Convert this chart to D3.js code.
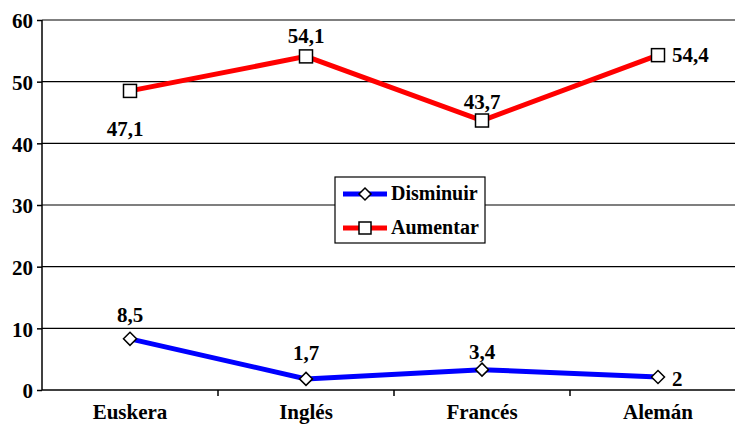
<!DOCTYPE html>
<html><head><meta charset="utf-8">
<script src="https://cdn.jsdelivr.net/npm/d3@7"></script>
<style>body{margin:0;background:#fff}svg{display:block}</style>
</head><body>
<svg id="c" width="735" height="425"></svg>
<script>
const categories = ["Euskera","Inglés","Francés","Alemán"];
const disminuir = [8.3, 1.8, 3.3, 2.1];
const disminuirLabels = ["8,5","1,7","3,4","2"];
const aumentar = [48.5, 54.1, 43.7, 54.3];
const aumentarLabels = ["47,1","54,1","43,7","54,4"];
const yTicks = [0,10,20,30,40,50,60];

const FONT = "'Liberation Serif'";
const svg = d3.select("#c");
const x = d3.scaleBand().domain(categories).range([42, 746]);
const y = d3.scaleLinear().domain([0,60]).range([390, 20]);
const cx = d => x(d) + x.bandwidth()/2;

function styleText(sel, size){
  sel.attr("font-family", FONT).attr("font-weight","bold").attr("font-size", size)
     .attr("fill","#000");
}

// gridlines
svg.append("g").selectAll("line").data(yTicks.filter(t=>t>0)).join("line")
  .attr("x1",42).attr("x2",735).attr("y1",d=>y(d)).attr("y2",d=>y(d))
  .attr("stroke","#000").attr("stroke-width",1.2);

// y axis
const ya = svg.append("g").attr("transform","translate(42,0)")
  .call(d3.axisLeft(y).tickValues(yTicks).tickSize(5).tickPadding(4).tickFormat(d3.format("d")));
ya.attr("font-family", FONT).attr("font-size",21);
ya.select(".domain").attr("stroke","#000").attr("stroke-width",1.5).attr("d","M0,20V390");
ya.selectAll("line").attr("stroke","#000").attr("stroke-width",1.5);
styleText(ya.selectAll("text"), 21);
ya.selectAll("text").attr("dy","0.38em");

// x axis
const xa = svg.append("g").attr("transform","translate(0,390)")
  .call(d3.axisBottom(x).tickSize(0).tickPadding(14));
xa.attr("font-family", FONT).attr("font-size",21);
xa.select(".domain").attr("stroke","#000").attr("stroke-width",1.5).attr("d","M42,0H735");
styleText(xa.selectAll("text"), 21);
svg.append("g").selectAll("line").data(categories.slice(1)).join("line")
  .attr("x1",d=>x(d)).attr("x2",d=>x(d)).attr("y1",390).attr("y2",396)
  .attr("stroke","#000").attr("stroke-width",1.5);

const line = d3.line().x((d,i)=>cx(categories[i])).y(d=>y(d));

function diamond(g, px, py, s){
  g.append("path").attr("d",`M${px},${py-s}L${px+s},${py}L${px},${py+s}L${px-s},${py}Z`)
   .attr("fill","#fff").attr("stroke","#000").attr("stroke-width",1.5);
}
function square(g, px, py, s){
  g.append("rect").attr("x",px-s).attr("y",py-s).attr("width",2*s).attr("height",2*s)
   .attr("fill","#fff").attr("stroke","#000").attr("stroke-width",1.5);
}

// blue series
svg.append("path").datum(disminuir).attr("d",line).attr("fill","none")
  .attr("stroke","#0000ff").attr("stroke-width",5);
const gd = svg.append("g");
disminuir.forEach((v,i)=>diamond(gd, cx(categories[i]), y(v), 6.5));

// red series
svg.append("path").datum(aumentar).attr("d",line).attr("fill","none")
  .attr("stroke","#ff0000").attr("stroke-width",5);
const ga = svg.append("g");
aumentar.forEach((v,i)=>square(ga, cx(categories[i]), y(v), 6.5));

// labels
const fs = 21;
const aOff = [[-5,45,"middle"],[0,-13,"middle"],[0,-12,"middle"],[14,7,"start"]];
aumentar.forEach((v,i)=>{
  styleText(svg.append("text").attr("x",cx(categories[i])+aOff[i][0]).attr("y",y(v)+aOff[i][1])
   .attr("text-anchor",aOff[i][2]).text(aumentarLabels[i]), fs);
});
const dOff = [[0,-17,"middle"],[0,-19,"middle"],[0,-11,"middle"],[14,9,"start"]];
disminuir.forEach((v,i)=>{
  styleText(svg.append("text").attr("x",cx(categories[i])+dOff[i][0]).attr("y",y(v)+dOff[i][1])
   .attr("text-anchor",dOff[i][2]).text(disminuirLabels[i]), fs);
});

// legend
const lg = svg.append("g");
lg.append("rect").attr("x",335).attr("y",177).attr("width",150).attr("height",66)
  .attr("fill","#fff").attr("stroke","#000").attr("stroke-width",1.2);
const leg = [["Disminuir","#0000ff",diamond,194],["Aumentar","#ff0000",square,228]];
leg.forEach(([name,col,mk,ly])=>{
  lg.append("line").attr("x1",343).attr("x2",387).attr("y1",ly).attr("y2",ly)
    .attr("stroke",col).attr("stroke-width",5);
  mk(lg,365,ly,6);
  styleText(lg.append("text").attr("x",391).attr("y",ly+6).text(name), 20);
});
</script>
</body></html>
